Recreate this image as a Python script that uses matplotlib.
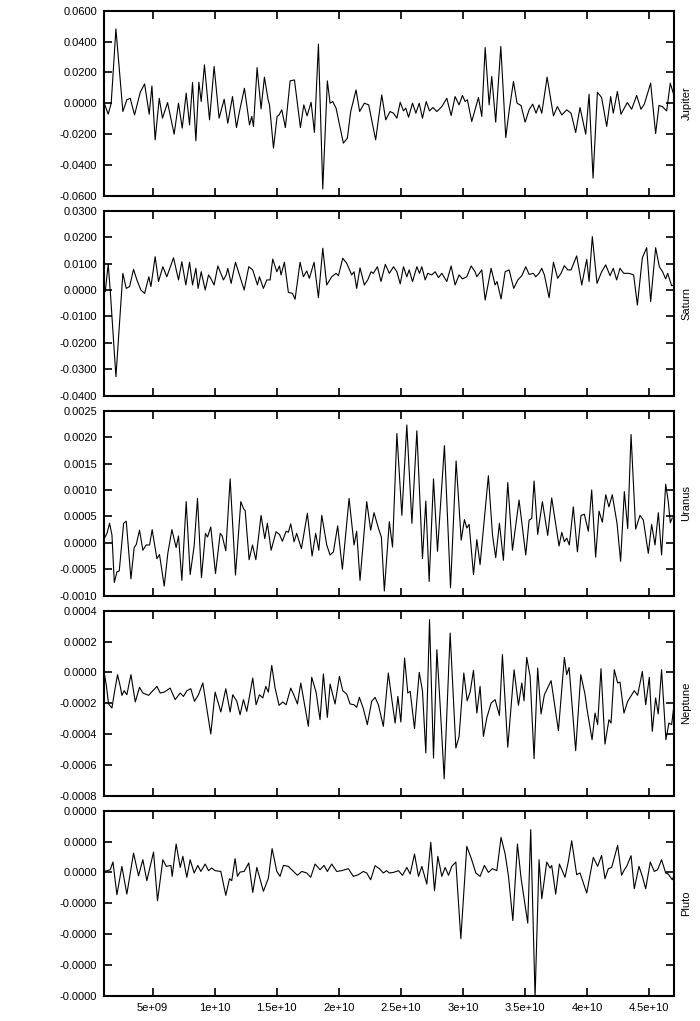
import matplotlib
matplotlib.use("Agg")
import matplotlib.pyplot as plt
from matplotlib.ticker import FormatStrFormatter, FuncFormatter

plt.rcParams['font.family'] = ['Liberation Sans', 'DejaVu Sans']

# time axis values are in units of 1e9
jupiter_t = [1.11, 1.43, 1.67, 2.05, 2.61, 2.93, 3.20, 3.55, 4.01, 4.36, 4.73, 4.95, 5.21, 5.54, 5.80,
             6.21, 6.74, 7.09, 7.39, 7.71, 7.98, 8.22, 8.49, 8.73, 8.92, 9.18, 9.59, 9.96, 10.36, 10.77,
             11.06, 11.44, 11.76, 12.00, 12.40, 12.81, 12.99, 13.13, 13.42, 13.74, 14.01, 14.31, 14.42,
             14.74, 15.03, 15.19, 15.41, 15.70, 16.08, 16.43, 16.91, 17.18, 17.45, 17.77, 18.04, 18.36,
             18.71, 19.08, 19.30, 19.51, 19.78, 20.37, 20.69, 20.96, 21.39, 21.68, 22.06, 22.41, 22.97,
             23.46, 23.78, 24.13, 24.41, 24.68, 24.95, 25.21, 25.40, 25.62, 25.94, 26.21, 26.48, 26.74,
             27.04, 27.31, 27.58, 27.90, 28.30, 28.70, 29.05, 29.37, 29.69, 29.96, 30.18, 30.36, 30.71,
             31.25, 31.52, 31.79, 32.11, 32.32, 32.64, 33.05, 33.45, 33.72, 34.07, 34.36, 34.68, 35.01,
             35.33, 35.62, 35.89, 36.13, 36.35, 36.78, 37.29, 37.61, 37.96, 38.36, 38.71, 39.08, 39.43,
             39.89, 40.16, 40.48, 40.83, 41.17, 41.58, 41.90, 42.11, 42.44, 42.73, 43.24, 43.59, 43.99,
             44.34, 44.61, 45.12, 45.52, 45.79, 46.06, 46.41, 46.70, 46.94]
# units of 1e-3
jupiter_v = [0.0, -7.1, 0.0, 48.2, -5.4, 2.2, 3.2, -7.6, 7.1, 12.5, -7.1, 11.2, -23.8, 3.2, -9.7,
             0.4, -20.1, 0.0, -16.2, 6.5, -14.1, 13.4, -24.4, 13.6, 1.1, 24.9, -10.8, 23.8, -9.7, 2.6,
             -13.0, 4.3, -15.8, -5.4, 9.7, -14.1, -8.6, -15.1, 23.1, -3.7, 16.9, 2.2, -1.1,
             -29.2, -8.6, -7.6, -4.3, -15.8, 14.5, 15.1, -15.8, -1.1, -8.2, 0.6, -19.0, 38.3,
             -55.6, 14.5, 0.0, 1.1, -3.2, -25.9, -22.7, -5.4, 8.6, -5.4, 0.0, -1.1, -23.8,
             5.4, -10.8, -5.4, -6.5, -9.7, 0.6, -5.0, -3.2, -9.1, 0.0, -6.5, 0.0, -9.7,
             1.1, -5.0, -2.8, -5.4, -2.2, 3.2, -8.0, 4.3, -1.1, 5.0, 1.1, 2.2, -11.9,
             3.7, -8.6, 36.1, -1.1, 17.3, -12.3, 36.8, -22.3, -5.0, 14.1, 0.0, -1.5, -12.3,
             -4.3, -0.6, -6.5, -1.1, -6.5, 16.9, -8.2, -2.2, -7.6, -4.3, -6.5, -19.0, -2.8,
             -20.1, 5.8, -48.6, 7.1, 3.7, -15.1, 4.3, -6.5, 7.6, -7.1, 0.4, -3.9, 5.0,
             -3.9, -0.6, 13.0, -19.7, -1.5, -2.2, -5.0, 13.0, 6.5]

saturn_t = [1.19, 1.43, 1.59, 2.05, 2.61, 2.88, 3.15, 3.47, 3.74, 4.06, 4.36, 4.70, 4.87, 5.21, 5.48,
            5.83, 6.15, 6.69, 7.09, 7.36, 7.68, 7.98, 8.22, 8.49, 8.67, 8.92, 9.24, 9.51, 9.69, 9.96,
            10.26, 10.71, 10.93, 11.06, 11.33, 11.68, 12.38, 12.75, 13.07, 13.45, 13.61, 13.93, 14.20,
            14.47, 14.68, 15.01, 15.22, 15.35, 15.62, 15.94, 16.27, 16.48, 16.88, 17.15, 17.42, 17.63,
            18.01, 18.36, 18.71, 19.03, 19.43, 19.78, 19.97, 20.32, 20.64, 21.04, 21.23, 21.44, 21.71,
            22.06, 22.33, 22.60, 22.78, 23.11, 23.40, 23.75, 24.07, 24.41, 24.68, 24.95, 25.21, 25.48,
            25.67, 25.94, 26.29, 26.50, 26.69, 26.96, 27.17, 27.49, 27.76, 28.03, 28.30, 28.70, 29.05,
            29.37, 29.69, 29.96, 30.31, 30.66, 30.98, 31.12, 31.52, 31.79, 32.27, 32.59, 32.75, 33.07,
            33.40, 33.72, 34.09, 34.42, 34.74, 35.06, 35.33, 35.68, 35.86, 36.13, 36.35, 36.56, 36.94,
            37.29, 37.63, 37.90, 38.17, 38.44, 38.71, 39.16, 39.57, 39.97, 40.16, 40.42, 40.80, 41.17,
            41.50, 41.85, 42.11, 42.38, 42.65, 42.95, 43.37, 43.75, 44.05, 44.45, 44.80, 45.12, 45.52,
            45.82, 46.08, 46.33, 46.49, 46.81, 46.97]
saturn_v = [-0.6, 9.8, 0.0, -32.8, 6.3, 0.6, 1.3, 7.8, 3.8, 0.0, -1.3, 5.0, 1.3, 12.6, 3.2,
            8.8, 5.0, 12.2, 3.8, 10.7, 1.9, 10.5, 1.9, 8.2, 0.6, 6.9, 0.0, 5.7, 4.4, 1.9,
            9.1, 3.8, 5.7, 8.2, 2.5, 10.5, 0.0, 8.8, 7.6, 1.9, 5.0, 0.6, 3.8,
            3.8, 11.7, 6.9, 9.1, 5.7, 10.5, -0.9, -1.3, -3.5, 10.5, 5.0, 7.2, 4.4,
            10.5, -2.9, 15.8, 1.9, 5.0, 6.3, 5.4, 12.0, 10.1, 5.7, 6.9, 0.6, 8.4,
            1.9, 3.8, 6.9, 6.3, 8.8, 3.2, 9.7, 6.3, 8.8, 6.9, 2.3, 8.8, 5.0,
            7.6, 3.2, 8.8, 6.3, 8.8, 3.8, 6.3, 5.7, 6.9, 4.7, 6.3, 3.2, 9.1,
            1.9, 5.7, 4.2, 5.0, 9.1, 6.9, 5.0, 7.6, -3.8, 8.2, 1.9, 3.2, -3.4,
            6.9, 7.6, 0.6, 3.8, 5.4, 8.8, 5.9, 6.3, 5.0, 6.3, 8.2, 5.7, -2.9,
            10.5, 4.4, 6.3, 9.2, 7.6, 7.6, 12.9, 1.9, 11.6, 3.2, 20.2, 2.5, 6.9,
            9.5, 5.4, 8.2, 3.8, 8.2, 6.3, 6.3, 5.7, -5.7, 12.2, 16.0, -4.4, 16.0,
            8.8, 6.9, 4.2, 6.3, 1.6, 1.9]

uranus_t = [1.11, 1.33, 1.54, 1.73, 1.92, 2.13, 2.32, 2.67, 2.88, 3.26, 3.52, 3.69, 3.95, 4.22, 4.49,
            4.76, 4.97, 5.35, 5.56, 5.94, 6.23, 6.56, 6.90, 7.09, 7.36, 7.71, 8.03, 8.35, 8.62, 8.94,
            9.26, 9.43, 9.69, 10.07, 10.45, 10.61, 10.90, 11.25, 11.68, 12.11, 12.32, 12.46, 12.78,
            13.05, 13.32, 13.74, 14.04, 14.25, 14.55, 14.95, 15.22, 15.46, 15.76, 15.94, 16.13, 16.40,
            16.61, 16.99, 17.47, 17.85, 18.14, 18.39, 18.63, 19.03, 19.30, 19.57, 19.91, 20.29, 20.83,
            21.23, 21.44, 21.71, 22.25, 22.57, 22.84, 23.19, 23.43, 23.67, 24.07, 24.33, 24.68, 25.08,
            25.48, 25.89, 26.29, 26.74, 27.01, 27.28, 27.63, 27.95, 28.51, 29.00, 29.45, 29.86, 30.12,
            30.31, 30.50, 30.85, 31.12, 31.38, 31.65, 32.05, 32.38, 32.64, 32.94, 33.26, 33.61, 33.99,
            34.52, 35.06, 35.33, 35.54, 35.73, 36.02, 36.40, 36.83, 37.15, 37.74, 37.96, 38.17, 38.36,
            38.57, 38.89, 39.22, 39.51, 39.78, 40.10, 40.37, 40.69, 40.96, 41.23, 41.50, 41.76, 42.03,
            42.41, 42.70, 43.00, 43.27, 43.54, 43.91, 44.26, 44.53, 44.93, 45.20, 45.47, 45.74, 46.00,
            46.33, 46.54, 46.70, 46.86]
# units of 1e-4
uranus_v = [0.8, 1.8, 3.7, 1.5, -7.5, -5.5, -5.3, 3.7, 4.1, -6.8, -0.9, -0.3, 2.4, -1.4, -0.4,
            -0.4, 2.5, -3.0, -2.2, -8.2, -2.0, 2.5, -0.9, 1.3, -7.1, 7.8, -6.0, -0.6, 8.4, -6.6,
            1.8, 1.1, 3.0, -5.8, 1.8, 1.3, -1.5, 12.1, -6.1, 7.8, 6.5, 6.1, -3.2,
            -0.4, -3.2, 5.2, 0.8, 3.7, -1.4, 2.1, 1.6, 0.3, 2.2, 2.0, 3.6, 0.2,
            1.8, -1.1, 5.6, -2.5, 1.8, -1.4, 5.2, -0.4, -2.3, -1.7, 3.2, -5.0, 8.4,
            -0.4, 2.2, -7.1, 7.8, 2.4, 5.7, 2.8, 1.1, -9.1, 4.0, -0.8, 20.7, 5.2,
            22.3, 3.7, 21.2, -3.0, 7.9, -7.3, 12.1, -1.6, 18.4, -8.5, 15.5, 0.5, 4.4,
            2.8, 3.5, -6.0, 0.6, -4.1, 2.6, 12.7, 1.5, -2.8, 3.7, -3.3, 11.4, -1.4,
            8.1, -2.3, 4.3, 4.6, 11.7, 1.6, 7.8, 1.4, 8.5, -0.6, 2.0, 0.2, 0.9,
            -0.4, 6.8, -1.7, 5.2, 5.4, 2.2, 10.0, -2.7, 6.0, 3.9, 9.1, 6.8, 9.1,
            3.7, -3.5, 9.7, 2.7, 20.5, 2.6, 5.2, 4.3, -2.0, 3.5, -0.4, 5.7, -2.3,
            11.1, 7.8, 3.8, 4.7]

neptune_t = [1.11, 1.27, 1.46, 1.73, 1.92, 2.18, 2.40, 2.53, 2.72, 2.93, 3.26, 3.61, 3.95, 4.22, 4.68,
             5.03, 5.35, 5.62, 5.94, 6.42, 6.82, 7.23, 7.49, 7.76, 8.08, 8.38, 8.70, 9.05, 9.32, 9.69,
             10.04, 10.50, 10.90, 11.25, 11.46, 11.79, 12.05, 12.32, 12.59, 13.07, 13.34, 13.61, 13.88,
             14.12, 14.33, 14.60, 14.87, 15.19, 15.49, 15.76, 16.13, 16.43, 16.67, 16.94, 17.20, 17.55,
             17.82, 18.17, 18.49, 18.76, 19.08, 19.30, 19.70, 20.05, 20.32, 20.64, 20.91, 21.23, 21.44,
             21.66, 21.98, 22.30, 22.65, 22.92, 23.19, 23.59, 23.99, 24.33, 24.54, 24.76, 25.00, 25.30,
             25.56, 25.75, 26.10, 26.48, 26.74, 27.01, 27.31, 27.63, 27.90, 28.17, 28.49, 28.97, 29.43,
             29.69, 30.07, 30.34, 30.58, 30.85, 31.12, 31.38, 31.65, 31.92, 32.27, 32.59, 32.94, 33.18,
             33.61, 34.12, 34.47, 34.74, 34.92, 35.14, 35.41, 35.73, 36.02, 36.29, 36.56, 37.10, 37.69,
             38.17, 38.36, 38.55, 39.08, 39.49, 39.83, 39.99, 40.40, 40.64, 40.85, 41.12, 41.44, 41.76,
             41.93, 42.19, 42.46, 42.65, 42.97, 43.27, 43.80, 44.07, 44.45, 44.72, 45.01, 45.25, 45.52,
             45.73, 46.00, 46.35, 46.59, 46.81, 46.97]
# units of 1e-5
neptune_v = [-0.4, -8.0, -20.5, -23.1, -13.4, -1.5, -9.1, -14.9, -11.9, -14.5, -1.5, -19.2, -9.7, -13.4, -14.9,
             -11.9, -9.1, -13.4, -12.8, -10.2, -17.7, -13.4, -15.6, -11.9, -10.6, -18.8, -14.5, -6.9, -21.0, -40.0,
             -12.8, -25.7, -10.6, -25.7, -14.5, -18.8, -27.5, -17.7, -25.3, -3.7, -21.0, -14.5, -16.6,
             -9.1, -12.8, 4.5, -10.2, -21.4, -19.2, -21.0, -10.2, -15.6, -20.5, -6.9, -18.8, -35.0,
             -3.2, -12.8, -30.7, -1.1, -29.2, -7.6, -20.5, -2.6, -11.9, -14.1, -20.5, -21.0, -22.7,
             -16.2, -23.6, -33.9, -18.8, -16.2, -21.0, -35.0, -0.4, -21.0, -32.9, -15.6, -32.2, 9.3,
             -13.4, -12.3, -36.5, 0.0, -11.9, -52.3, 34.2, -55.6, 14.7, -22.1, -69.0, 25.5, -49.1,
             -41.5, -0.4, -18.4, -12.8, 1.3, -26.4, -9.1, -41.5, -29.6, -19.9, -17.7, -27.9, 11.5,
             -48.6, 1.7, -21.4, -6.9, -18.4, 9.7, -2.6, -56.0, 2.8, -27.0, -14.5, -5.4, -37.8,
             9.7, -1.5, 3.2, -50.8, -1.5, -14.1, -23.6, -43.7, -26.4, -33.9, 2.4, -46.5, -30.7,
             -32.9, 1.7, -6.9, -6.3, -26.4, -18.8, -11.9, -14.9, 0.6, -21.0, -3.2, -38.3, -16.6,
             -27.0, 1.7, -43.7, -32.9, -33.9, -23.1]

pluto_t = [1.11, 1.59, 1.81, 2.13, 2.53, 2.93, 3.47, 3.87, 4.22, 4.54, 5.08, 5.40, 5.83, 6.10, 6.48,
           6.58, 6.90, 7.23, 7.44, 7.76, 8.03, 8.35, 8.65, 8.89, 9.24, 9.51, 9.77, 10.04, 10.50, 10.90,
           11.20, 11.38, 11.65, 11.84, 12.05, 12.38, 12.75, 13.07, 13.40, 13.93, 14.33, 14.63, 15.01,
           15.27, 15.54, 15.94, 16.21, 16.67, 17.02, 17.42, 17.74, 18.09, 18.49, 18.81, 19.08, 19.43,
           19.83, 20.23, 20.77, 21.17, 21.58, 21.98, 22.25, 22.57, 22.92, 23.27, 23.59, 23.86, 24.07,
           24.41, 24.81, 25.13, 25.48, 25.75, 26.10, 26.42, 26.69, 27.09, 27.41, 27.71, 27.98, 28.30,
           28.57, 28.84, 29.10, 29.43, 29.83, 30.31, 30.66, 31.04, 31.38, 31.73, 32.05, 32.38, 32.73,
           33.07, 33.40, 33.67, 34.02, 34.39, 34.68, 35.22, 35.46, 35.81, 36.13, 36.35, 36.75, 37.02,
           37.15, 37.47, 37.77, 38.22, 38.49, 38.76, 39.16, 39.43, 39.97, 40.50, 40.85, 41.17, 41.44,
           41.71, 41.98, 42.46, 42.78, 43.00, 43.19, 43.54, 43.80, 44.18, 44.45, 44.72, 45.09, 45.41,
           45.68, 46.00, 46.33, 46.54, 46.86, 46.97]
# units of 1e-7
pluto_v = [0.6, 1.7, 6.7, -14.5, 3.9, -14.1, 12.5, -2.2, 8.2, -5.4, 13.2, -18.4, 8.2, 3.9, 4.5,
           -2.6, 18.4, 3.2, 10.4, -3.2, 8.2, -0.4, 4.5, 0.6, 5.4, 1.1, 2.8, 1.1, 0.6, -14.9,
           -4.1, -5.4, 8.9, -2.6, 0.2, 0.6, 6.1, -13.0, 3.2, -12.3, -3.7, 15.4, 0.6,
           -2.6, 4.5, 3.9, 1.7, -1.9, 0.6, -0.4, -3.2, 5.4, 1.7, 4.5, 0.6, 5.4,
           0.6, 1.1, 2.4, -2.6, -1.5, 0.6, -0.4, -4.8, 4.3, 2.4, -0.4, 1.1, -0.4,
           0.0, 1.1, -1.9, 3.2, -1.1, 11.9, -2.6, 3.9, -7.6, 19.5, -11.9, 10.4, -2.6,
           3.2, -1.9, 3.9, 6.7, -43.0, 16.9, 9.3, -0.4, -2.6, 4.5, 0.0, 2.4, 1.1,
           22.7, 11.9, -2.6, -31.3, 18.4, -3.7, -32.9, 27.7, -81.0, 8.2, -17.1, 6.7, 2.8,
           4.5, -14.1, 5.4, -3.2, 7.1, 20.5, -1.5, -0.4, -13.4, 9.7, 3.9, 11.0, -4.1,
           2.4, 3.2, 17.5, -1.9, 1.7, 3.9, 10.8, -10.6, 3.9, -2.6, -10.6, 6.7, 0.6,
           1.7, 8.2, -0.4, -1.1, -4.8, -2.6]

names = ["Jupiter", "Saturn", "Uranus", "Neptune", "Pluto"]
times = [jupiter_t, saturn_t, uranus_t, neptune_t, pluto_t]
values = [jupiter_v, saturn_v, uranus_v, neptune_v, pluto_v]
scales = [1e-3, 1e-3, 1e-4, 1e-5, 1e-7]
ylims = [(-0.06, 0.06), (-0.04, 0.03), (-0.001, 0.0025), (-0.0008, 0.0004), (-8e-6, 4e-6)]
ysteps = [0.02, 0.01, 0.0005, 0.0002, 2e-6]
xticks = [5e9, 1e10, 1.5e10, 2e10, 2.5e10, 3e10, 3.5e10, 4e10, 4.5e10]

W, H = 700, 1021
fig = plt.figure(figsize=(W / 100, H / 100), dpi=100)
left, right = 104, 674
for k in range(5):
    top = 10.7 + 200 * k
    bot = 195.7 + 200 * k
    ax = fig.add_axes([left / W, 1 - bot / H, (right - left) / W, (bot - top) / H])
    t = [v * 1e9 for v in times[k]]
    y = [v * scales[k] for v in values[k]]
    ax.plot(t, y, color='black', lw=0.8)
    ax.set_xlim(1.09e9, 4.70e10)
    lo, hi = ylims[k]
    ax.set_ylim(lo, hi)
    n = int(round((hi - lo) / ysteps[k]))
    ax.set_yticks([lo + i * ysteps[k] for i in range(n + 1)])
    ax.yaxis.set_major_formatter(FormatStrFormatter('%.4f'))
    ax.set_xticks(xticks)
    if k == 4:
        ax.xaxis.set_major_formatter(FuncFormatter(lambda v, p: '%g' % v))
    else:
        ax.set_xticklabels([])
    ax.tick_params(direction='in', length=6, width=1.2, top=True, right=True,
                   labelsize=8, pad=5, colors='black')
    for s in ax.spines.values():
        s.set_linewidth(1.5)
    ax.text(1.022, 0.5, names[k], transform=ax.transAxes, rotation=90,
            ha='center', va='center', fontsize=8)

fig.savefig('out.png', dpi=100)
